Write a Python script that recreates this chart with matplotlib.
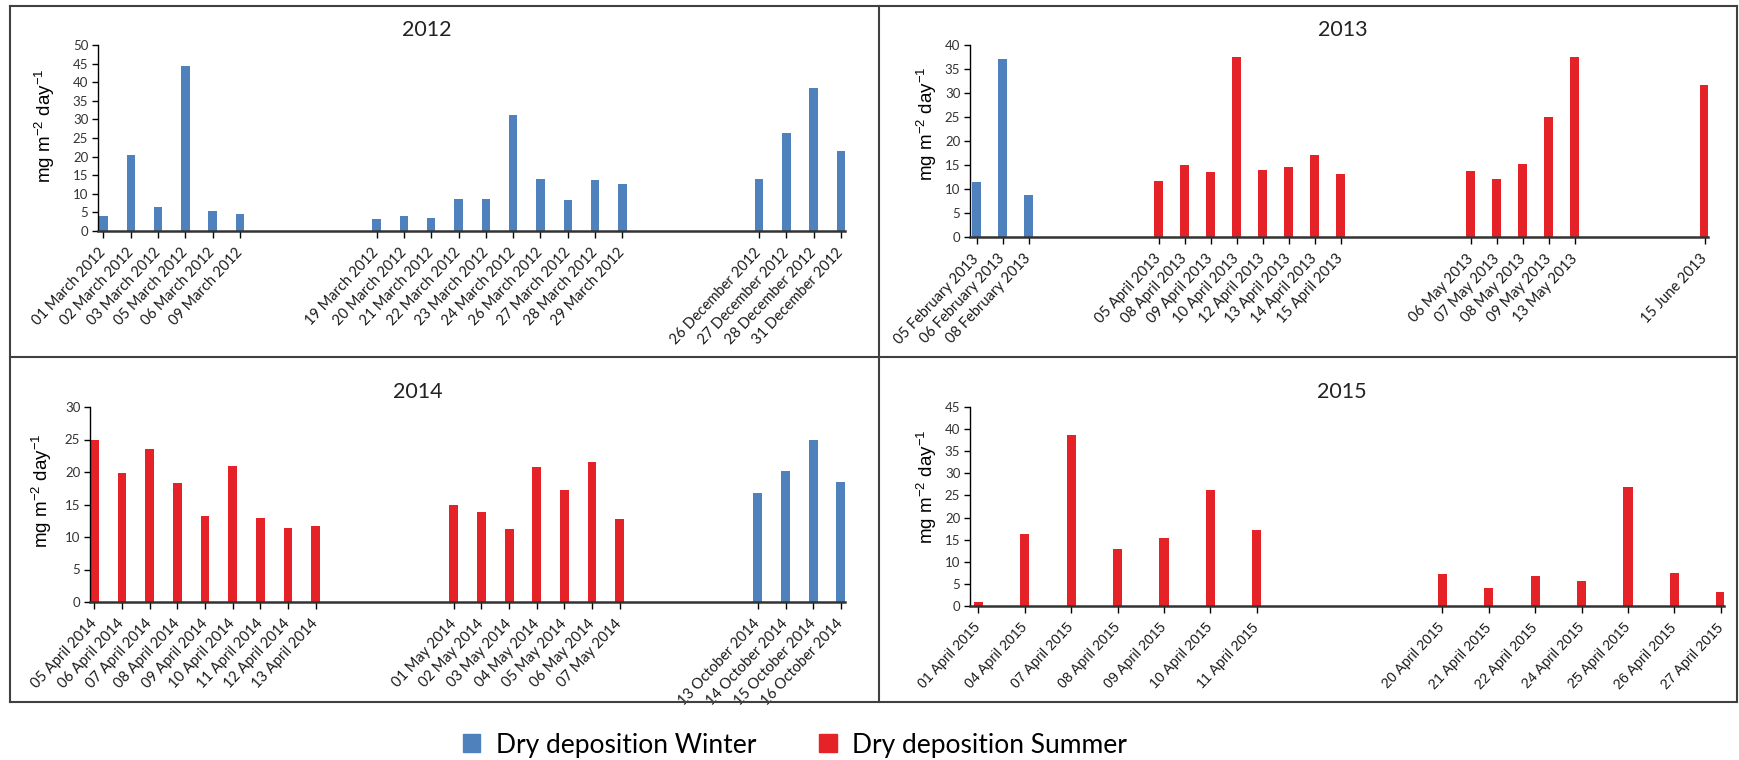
import matplotlib
matplotlib.use("Agg")
import matplotlib.pyplot as plt
from matplotlib.patches import Patch
from matplotlib.lines import Line2D

W, H = 1739, 760
WINTER = "#4F81BD"
SUMMER = "#E42227"
plt.rcParams["mathtext.fontset"] = "custom"
plt.rcParams["mathtext.rm"] = "Liberation Sans"
plt.rcParams["mathtext.it"] = "Liberation Sans:italic"

# ---- data: groups of sampling days, value per day, season per group ----
dates_2012 = [
    ["01 March 2012", "02 March 2012", "03 March 2012", "05 March 2012", "06 March 2012", "09 March 2012"],
    ["19 March 2012", "20 March 2012", "21 March 2012", "22 March 2012", "23 March 2012",
     "24 March 2012", "26 March 2012", "27 March 2012", "28 March 2012", "29 March 2012"],
    ["26 December 2012", "27 December 2012", "28 December 2012", "31 December 2012"],
]
vals_2012 = [
    [3.9, 20.4, 6.4, 44.3, 5.3, 4.6],
    [3.1, 4.1, 3.5, 8.7, 8.5, 31.2, 14.1, 8.3, 13.8, 12.7],
    [14.1, 26.4, 38.4, 21.6],
]
season_2012 = ["winter", "winter", "winter"]

dates_2013 = [
    ["05 February 2013", "06 February 2013", "08 February 2013"],
    ["05 April 2013", "08 April 2013", "09 April 2013", "10 April 2013",
     "12 April 2013", "13 April 2013", "14 April 2013", "15 April 2013"],
    ["06 May 2013", "07 May 2013", "08 May 2013", "09 May 2013", "13 May 2013"],
    ["15 June 2013"],
]
vals_2013 = [
    [11.4, 37.1, 8.85],
    [11.6, 15.0, 13.5, 37.4, 14.0, 14.5, 17.1, 13.2],
    [13.7, 12.1, 15.3, 24.9, 37.6],
    [31.6],
]
season_2013 = ["winter", "summer", "summer", "summer"]

dates_2014 = [
    ["05 April 2014", "06 April 2014", "07 April 2014", "08 April 2014", "09 April 2014",
     "10 April 2014", "11 April 2014", "12 April 2014", "13 April 2014"],
    ["01 May 2014", "02 May 2014", "03 May 2014", "04 May 2014", "05 May 2014",
     "06 May 2014", "07 May 2014"],
    ["13 October 2014", "14 October 2014", "15 October 2014", "16 October 2014"],
]
vals_2014 = [
    [25.0, 19.8, 23.6, 18.3, 13.2, 20.9, 13.0, 11.35, 11.7],
    [14.9, 13.9, 11.3, 20.75, 17.2, 21.5, 12.8],
    [16.8, 20.1, 24.9, 18.4],
]
season_2014 = ["summer", "summer", "winter"]

dates_2015 = [
    ["01 April 2015", "04 April 2015", "07 April 2015", "08 April 2015",
     "09 April 2015", "10 April 2015", "11 April 2015"],
    ["20 April 2015", "21 April 2015", "22 April 2015", "24 April 2015",
     "25 April 2015", "26 April 2015", "27 April 2015"],
]
vals_2015 = [
    [1.0, 16.3, 38.7, 13.0, 15.3, 26.2, 17.2],
    [7.2, 4.1, 6.85, 5.6, 26.9, 7.4, 3.1],
]
season_2015 = ["summer", "summer"]

COLORS = {"winter": WINTER, "summer": SUMMER}

# panel layout in pixels: plot box (left, top, right, bottom), title xy, ylabel xy
panels = [
    dict(year="2012", dates=dates_2012, vals=vals_2012, season=season_2012, gap=4,
         box=(98, 45, 845, 231), ymax=50, pad=(0.2, 0.15), width=0.31,
         title=(427, 30), ylab=(45, 126), xfont="Lato", xsize=10.5),
    dict(year="2013", dates=dates_2013, vals=vals_2013, season=season_2013, gap=4,
         box=(970, 45, 1708, 237), ymax=40, pad=(0.25, 0.12), width=0.34,
         title=(1343, 30), ylab=(927, 124), xfont="Lato", xsize=10.5),
    dict(year="2014", dates=dates_2014, vals=vals_2014, season=season_2014, gap=4,
         box=(90, 407, 845, 602), ymax=30, pad=(0.16, 0.15), width=0.32,
         title=(418, 392), ylab=(42, 491), xfont="Lato", xsize=10.5),
    dict(year="2015", dates=dates_2015, vals=vals_2015, season=season_2015, gap=3,
         box=(970, 407, 1724, 606), ymax=45, pad=(0.18, 0.07), width=0.2,
         title=(1342, 392), ylab=(927, 487), xfont="Liberation Sans", xsize=10.3),
]

fig = plt.figure(figsize=(W / 100, H / 100), dpi=100)

for p in panels:
    l, t, r, b = p["box"]
    ax = fig.add_axes([l / W, 1 - b / H, (r - l) / W, (b - t) / H])
    pos, labels, vals, cols = [], [], [], []
    x = 0
    for ds, vs, s in zip(p["dates"], p["vals"], p["season"]):
        for d, v in zip(ds, vs):
            pos.append(x); labels.append(d); vals.append(v); cols.append(COLORS[s])
            x += 1
        x += p["gap"]
    ax.bar(pos, vals, width=p["width"], color=cols, zorder=2)
    ax.set_xlim(pos[0] - p["pad"][0], pos[-1] + p["pad"][1])
    ax.set_ylim(0, p["ymax"])
    ax.set_yticks(range(0, p["ymax"] + 1, 5))
    ax.set_xticks(pos)
    ax.set_xticklabels(labels, rotation=47, ha="right", va="center", rotation_mode="anchor",
                       fontsize=p["xsize"], family=p["xfont"], color="#1a1a1a")
    for lab in ax.get_yticklabels():
        lab.set_family("Lato"); lab.set_fontsize(9.5); lab.set_color("#333333")
    for s in ("top", "right"):
        ax.spines[s].set_visible(False)
    ax.spines["left"].set_linewidth(1.0)
    ax.spines["bottom"].set_linewidth(1.8)
    ax.spines["bottom"].set_color("#333333")
    ax.tick_params(axis="y", direction="out", length=4, width=1, pad=3)
    ax.tick_params(axis="x", direction="out", length=5, width=1, pad=9)
    ax.patch.set_alpha(0)
    fig.text(p["title"][0] / W, 1 - p["title"][1] / H, p["year"], ha="center", va="center",
             fontsize=15.5, family="Lato", color="#222222")
    fig.text(p["ylab"][0] / W, 1 - p["ylab"][1] / H, r"mg m$^{-2}$ day$^{-1}$", rotation=90,
             ha="center", va="center", fontsize=13.5, family="Liberation Sans")

# panel frame lines
frame = [((10, 6), (1737, 6)), ((10, 702), (1737, 702)), ((10, 6), (10, 702)),
         ((1737, 6), (1737, 702)), ((879, 6), (879, 702)), ((10, 357), (1737, 357))]
for (x0, y0), (x1, y1) in frame:
    fig.add_artist(Line2D([x0 / W, x1 / W], [1 - y0 / H, 1 - y1 / H], color="#404040", lw=1.5))

handles = [Patch(color=WINTER, label="Dry deposition Winter"),
           Patch(color=SUMMER, label="Dry deposition Summer")]
fig.legend(handles=handles, loc="center", bbox_to_anchor=(795 / W, 1 - 745 / H), ncol=2,
           frameon=False, prop={"family": "Lato", "size": 19}, handlelength=0.65, handleheight=0.65,
           handletextpad=0.6, columnspacing=2.4)

fig.savefig("out.png", dpi=100)
